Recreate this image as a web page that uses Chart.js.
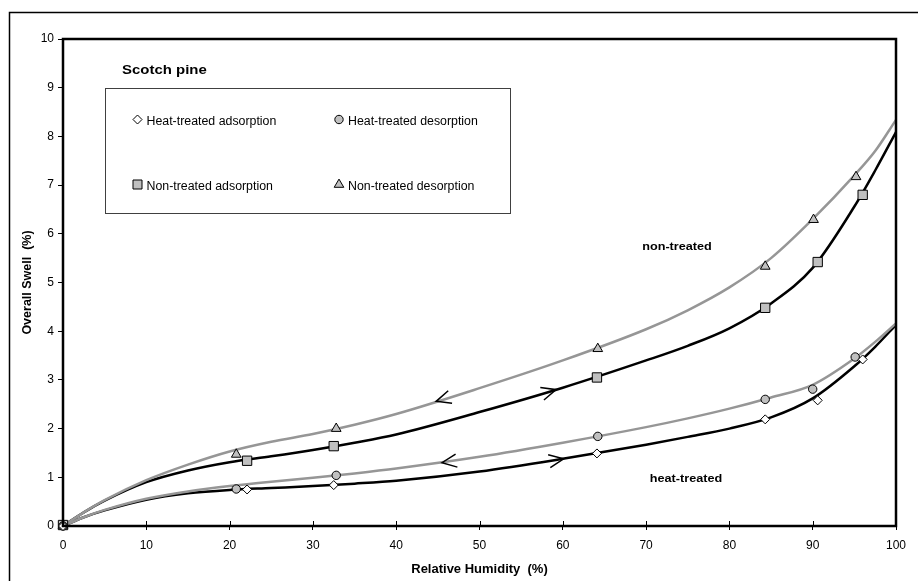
<!DOCTYPE html>
<html>
<head>
<meta charset="utf-8">
<script src="https://cdn.jsdelivr.net/npm/chart.js@4.4.1/dist/chart.umd.min.js"></script>
<style>
  html, body { margin: 0; padding: 0; background: #fff; }
  #wrap { position: relative; width: 918px; height: 581px; }
</style>
</head>
<body>
<div id="wrap"><canvas id="swell-chart" width="918" height="581"></canvas></div>
<script>
const FONT = "Arial, 'Liberation Sans', sans-serif";

// measured points (RH %, overall swell %)
const htAdsRH = [0, 22.1, 32.5, 64.1, 84.3, 90.6, 96.0];
const htAdsSwell = [0, 0.75, 0.84, 1.49, 2.19, 2.58, 3.42];
const htDesRH = [0, 20.8, 32.8, 64.2, 84.3, 90.0, 95.1];
const htDesSwell = [0, 0.76, 1.04, 1.84, 2.60, 2.81, 3.47];
const ntAdsRH = [0, 22.1, 32.5, 64.1, 84.3, 90.6, 96.0];
const ntAdsSwell = [0.02, 1.34, 1.64, 3.05, 4.48, 5.42, 6.80];
const ntDesRH = [0, 20.8, 32.8, 64.2, 84.3, 90.1, 95.2];
const ntDesSwell = [0, 1.47, 2.00, 3.64, 5.33, 6.29, 7.17];

// fitted curves
const curveRH = [0, 2.5, 5, 10, 15, 20, 25, 30, 35, 40, 50, 60, 70, 75, 80, 85, 90, 95, 97.5, 100];
const ntDesCurve = [0, 0.28, 0.53, 0.94, 1.26, 1.53, 1.73, 1.89, 2.08, 2.30, 2.83, 3.40, 4.04, 4.43, 4.90, 5.50, 6.30, 7.20, 7.70, 8.34];
const ntAdsCurve = [0, 0.28, 0.52, 0.90, 1.14, 1.31, 1.43, 1.56, 1.71, 1.88, 2.34, 2.84, 3.40, 3.70, 4.06, 4.57, 5.30, 6.56, 7.30, 8.09];
const htDesCurve = [0, 0.18, 0.33, 0.56, 0.71, 0.82, 0.91, 0.99, 1.08, 1.18, 1.42, 1.71, 2.03, 2.21, 2.41, 2.64, 2.90, 3.44, 3.78, 4.16];
const htAdsCurve = [0, 0.18, 0.32, 0.54, 0.67, 0.74, 0.78, 0.82, 0.87, 0.93, 1.12, 1.38, 1.67, 1.83, 2.00, 2.23, 2.62, 3.28, 3.68, 4.13];

// direction arrows on the curves
const arrowRH = [44.8, 59.2, 45.5, 60.1];
const arrowSwell = [2.56, 2.80, 1.30, 1.38];
const arrowDir = [-1, 1, -1, 1];
const arrowCurve = [ntDesCurve, ntAdsCurve, htDesCurve, htAdsCurve];

const xTickValues = [0, 10, 20, 30, 40, 50, 60, 70, 80, 90, 100];
const yTickValues = [0, 1, 2, 3, 4, 5, 6, 7, 8, 9, 10];

const legendLabels = ["Heat-treated adsorption", "Heat-treated desorption",
                      "Non-treated adsorption", "Non-treated desorption"];

const GREY = "#969696";
const MARK_FILL = "#c0c0c0";
const STRETCH = 1.15; // the original bold labels are a bit wide

const pts = (xs, ys) => xs.map((x, i) => ({ x: x, y: ys[i] }));

const curve = (ys, color) => ({
  type: "line",
  data: pts(curveRH, ys),
  borderColor: color,
  borderWidth: 2.5,
  pointRadius: 0,
  cubicInterpolationMode: "monotone",
  fill: false,
  order: 2
});

const markers = (label, xs, ys, style, radius, fill) => ({
  type: "scatter",
  label: label,
  data: pts(xs, ys),
  pointStyle: style,
  pointRadius: radius,
  pointBackgroundColor: fill,
  pointBorderColor: "#000",
  pointBorderWidth: 1,
  showLine: false,
  clip: false,
  order: 1
});

function wideText(c, text, x, y, sx) {
  c.save();
  c.translate(x, y);
  c.scale(sx, 1);
  c.fillText(text, 0, 0);
  c.restore();
}

function drawMarker(ctx, style, x, y) {
  ctx.save();
  ctx.strokeStyle = "#000";
  ctx.lineWidth = 1;
  ctx.fillStyle = MARK_FILL;
  ctx.beginPath();
  if (style === "rectRot") {
    ctx.fillStyle = "#fff";
    ctx.moveTo(x, y - 4.5); ctx.lineTo(x + 4.5, y); ctx.lineTo(x, y + 4.5); ctx.lineTo(x - 4.5, y);
    ctx.closePath();
  } else if (style === "circle") {
    ctx.arc(x, y, 4.2, 0, Math.PI * 2);
  } else if (style === "rect") {
    ctx.rect(x - 4.5, y - 4.5, 9, 9);
  } else {
    ctx.moveTo(x, y - 5.4); ctx.lineTo(x + 4.8, y + 2.8); ctx.lineTo(x - 4.8, y + 2.8);
    ctx.closePath();
  }
  ctx.fill();
  ctx.stroke();
  ctx.restore();
}

const decor = {
  id: "decor",
  beforeDraw(chart) {
    const c = chart.ctx;
    c.save();
    c.fillStyle = "#fff";
    c.fillRect(0, 0, chart.width, chart.height);
    // outer figure frame (only left and top visible)
    c.strokeStyle = "#000";
    c.lineWidth = 1.5;
    c.beginPath();
    c.moveTo(9.5, chart.height);
    c.lineTo(9.5, 12.5);
    c.lineTo(chart.width, 12.5);
    c.stroke();
    c.restore();
  },
  afterDatasetsDraw(chart) {
    const c = chart.ctx;
    const a = chart.chartArea;
    const xs = chart.scales.x, ys = chart.scales.y;
    c.save();

    // arrows
    c.strokeStyle = "#000";
    c.lineWidth = 1.5;
    arrowRH.forEach((rh, i) => {
      const px = xs.getPixelForValue(rh), py = ys.getPixelForValue(arrowSwell[i]);
      let k = 1;
      while (k < curveRH.length - 1 && curveRH[k] < rh) k++;
      const cv = arrowCurve[i];
      const dx = xs.getPixelForValue(curveRH[k]) - xs.getPixelForValue(curveRH[k - 1]);
      const dy = ys.getPixelForValue(cv[k]) - ys.getPixelForValue(cv[k - 1]);
      let ang = Math.atan2(dy, dx);
      if (arrowDir[i] < 0) ang += Math.PI;
      const L = 16, h = 0.42;
      c.beginPath();
      c.moveTo(px - L * Math.cos(ang - h), py - L * Math.sin(ang - h));
      c.lineTo(px, py);
      c.lineTo(px - L * Math.cos(ang + h), py - L * Math.sin(ang + h));
      c.stroke();
    });

    // plot frame
    c.lineWidth = 2.5;
    c.strokeRect(a.left, a.top, a.right - a.left, a.bottom - a.top);

    // x ticks also run a little into the plot
    c.lineWidth = 1;
    xTickValues.forEach(v => {
      const px = Math.round(xs.getPixelForValue(v)) + 0.5;
      c.beginPath();
      c.moveTo(px, a.bottom);
      c.lineTo(px, a.bottom - 5);
      c.stroke();
    });

    // curve labels
    c.fillStyle = "#000";
    c.font = "bold 11px " + FONT;
    c.textAlign = "center";
    c.textBaseline = "middle";
    wideText(c, "non-treated", 677, 247, STRETCH);
    wideText(c, "heat-treated", 686, 479, STRETCH);

    // title
    c.textAlign = "left";
    c.font = "bold 13px " + FONT;
    wideText(c, "Scotch pine", 122, 70, STRETCH);

    // legend box
    c.fillStyle = "#fff";
    c.fillRect(105.5, 88.5, 405, 125);
    c.strokeStyle = "#404040";
    c.lineWidth = 1;
    c.strokeRect(105.5, 88.5, 405, 125);
    const spots = [[137.5, 119.5], [339, 119.5], [137.5, 184.5], [339, 184.5]];
    const styles = chart.data.datasets.filter(d => d.type === "scatter").map(d => d.pointStyle);
    c.font = "12px " + FONT;
    legendLabels.forEach((t, i) => {
      drawMarker(c, styles[i], spots[i][0], spots[i][1]);
      c.fillStyle = "#000";
      wideText(c, t, spots[i][0] + 9, spots[i][1] + 2, 1.03);
    });
    c.restore();
  }
};

new Chart(document.getElementById("swell-chart"), {
  data: {
    datasets: [
      markers(legendLabels[0], htAdsRH, htAdsSwell, "rectRot", 4.5, "#fff"),
      markers(legendLabels[1], htDesRH, htDesSwell, "circle", 4.2, MARK_FILL),
      markers(legendLabels[2], ntAdsRH, ntAdsSwell, "rect", 6.6, MARK_FILL),
      markers(legendLabels[3], ntDesRH, ntDesSwell, "triangle", 5.6, MARK_FILL),
      curve(ntDesCurve, GREY),
      curve(htDesCurve, GREY),
      curve(ntAdsCurve, "#000"),
      curve(htAdsCurve, "#000")
    ]
  },
  options: {
    responsive: false,
    devicePixelRatio: 1,
    animation: false,
    layout: { padding: { top: 39, right: 22, left: 0, bottom: 0 } },
    plugins: { legend: { display: false }, tooltip: { enabled: false } },
    scales: {
      x: {
        type: "linear", min: 0, max: 100,
        afterBuildTicks: s => { s.ticks = xTickValues.map(v => ({ value: v })); },
        afterFit: s => { s.height = 55; },
        ticks: { color: "#000", font: { family: FONT, size: 12 }, padding: 8, maxRotation: 0 },
        grid: { drawOnChartArea: false, color: "#000", tickLength: 4 },
        border: { display: false },
        title: { display: true, text: "Relative Humidity  (%)", color: "#000",
                 font: { family: FONT, size: 13, weight: "bold" }, padding: { top: 0, bottom: 4 } }
      },
      y: {
        type: "linear", min: 0, max: 10,
        afterBuildTicks: s => { s.ticks = yTickValues.map(v => ({ value: v })); },
        afterFit: s => { s.width = 63; },
        ticks: { color: "#000", font: { family: FONT, size: 12 }, padding: 4 },
        grid: { drawOnChartArea: false, color: "#000", tickLength: 5 },
        border: { display: false },
        title: { display: true, text: "Overall Swell  (%)", color: "#000",
                 font: { family: FONT, size: 12.5, weight: "bold" }, padding: { top: 20, bottom: 0 } }
      }
    }
  },
  plugins: [decor]
});
</script>
</body>
</html>
